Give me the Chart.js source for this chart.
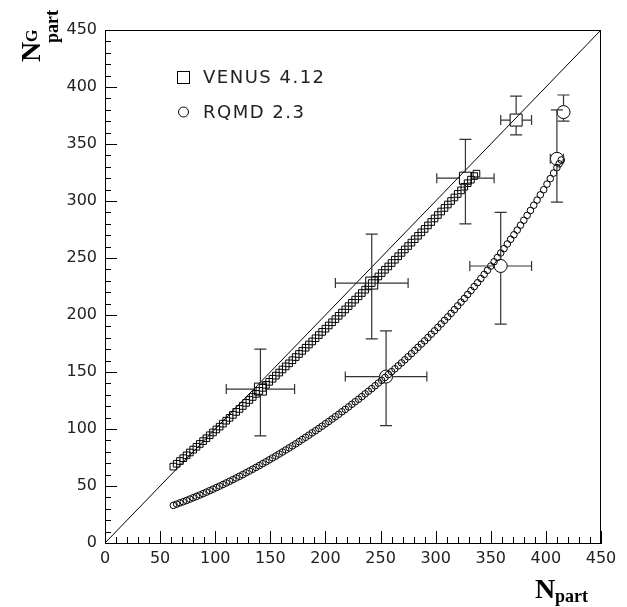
<!DOCTYPE html>
<html>
<head>
<meta charset="utf-8">
<script src="https://cdn.jsdelivr.net/npm/chart.js@4/dist/chart.umd.min.js"></script>
<style>
html,body{margin:0;padding:0;background:#fff;}
#wrap{width:627px;height:607px;position:relative;}
</style>
</head>
<body>
<div id="wrap"><canvas id="c" width="627" height="607"></canvas></div>
<script>
// ---- tick labels ----
const xTickLabels = [0, 50, 100, 150, 200, 250, 300, 350, 400, 450];
const yTickLabels = [0, 50, 100, 150, 200, 250, 300, 350, 400, 450];

// ---- diagonal reference line N^G = N ----
const diagX = [0, 450];
const diagY = [0, 450];

// ---- VENUS 4.12 (small squares) ----
const venusX = [62,65,68,71,74,77,80,83,86,89,92,95,98,101,104,107,110,113,116,119,122,125,128,131,134,137,140,143,146,149,152,155,158,161,164,167,170,173,176,179,182,185,188,191,194,197,200,203,206,209,212,215,218,221,224,227,230,233,236,239,242,245,248,251,254,257,260,263,266,269,272,275,278,281,284,287,290,293,296,299,302,305,308,311,314,317,320,323,326,329,332,335,337];
const venusY = [67.0,69.5,71.9,74.4,76.9,79.4,81.9,84.4,86.9,89.4,91.9,94.5,97.0,99.6,102.1,104.7,107.3,109.8,112.4,115.0,117.6,120.2,122.9,125.5,128.1,130.8,133.4,136.1,138.7,141.4,144.1,146.8,149.5,152.2,154.9,157.6,160.3,163.1,165.8,168.5,171.3,174.1,176.8,179.6,182.4,185.2,188.0,190.8,193.6,196.4,199.3,202.1,204.9,207.8,210.7,213.5,216.4,219.3,222.2,225.1,228.0,230.9,233.8,236.8,239.7,242.6,245.6,248.5,251.5,254.5,257.5,260.5,263.5,266.5,269.5,272.5,275.5,278.6,281.6,284.7,287.7,290.8,293.9,296.9,300.0,303.1,306.2,309.3,312.5,315.6,318.7,321.9,324.0];

// ---- RQMD 2.3 (small circles) ----
const rqmdX = [62,65,68,71,74,77,80,83,86,89,92,95,98,101,104,107,110,113,116,119,122,125,128,131,134,137,140,143,146,149,152,155,158,161,164,167,170,173,176,179,182,185,188,191,194,197,200,203,206,209,212,215,218,221,224,227,230,233,236,239,242,245,248,251,254,257,260,263,266,269,272,275,278,281,284,287,290,293,296,299,302,305,308,311,314,317,320,323,326,329,332,335,338,341,344,347,350,353,356,359,362,365,368,371,374,377,380,383,386,389,392,395,398,401,404,407,410,412,414];
const rqmdY = [33.0,34.1,35.2,36.2,37.3,38.5,39.7,40.9,42.1,43.3,44.6,45.9,47.2,48.6,49.9,51.3,52.7,54.1,55.6,57.0,58.5,60.0,61.6,63.1,64.7,66.3,67.9,69.6,71.2,72.9,74.6,76.3,78.0,79.8,81.6,83.4,85.2,87.0,88.9,90.8,92.7,94.6,96.6,98.5,100.5,102.5,104.6,106.6,108.7,110.8,112.9,115.1,117.2,119.4,121.7,123.9,126.1,128.4,130.8,133.1,135.4,137.9,140.3,142.7,145.2,147.7,150.3,152.8,155.4,158.0,160.7,163.4,166.1,168.9,171.7,174.5,177.3,180.2,183.2,186.1,189.1,192.2,195.3,198.4,201.5,204.7,208.0,211.3,214.5,218.0,221.4,224.9,228.3,232.0,235.6,239.2,242.9,246.7,250.5,254.4,258.2,262.3,266.4,270.4,274.5,278.8,283.1,287.4,291.7,296.3,300.8,305.4,309.9,314.8,319.6,324.5,329.3,332.6,336.0];

// ---- VENUS big points with error bars ----
const venusBigX    = [141, 242, 327, 373];
const venusBigY    = [135, 228, 320, 371];
const venusBigXErr = [31, 33, 26, 14];
const venusBigYLo  = [94, 179, 280, 358];
const venusBigYHi  = [170, 271, 354, 392];

// ---- RQMD big points with error bars ----
const rqmdBigX    = [255, 359, 410, 416];
const rqmdBigY    = [146, 243, 337, 378];
const rqmdBigXErr = [37, 28, 6, 0];
const rqmdBigYLo  = [103, 192, 299, 370];
const rqmdBigYHi  = [186, 290, 380, 393];

const seriesLabels = ['VENUS 4.12', 'RQMD 2.3'];

const pts = (xs, ys) => xs.map((x, i) => ({x: x, y: ys[i]}));

// inward tick marks (ROOT style) + frame
const frameTicks = {
  id: 'frameTicks',
  beforeDatasetsDraw(chart) {
    const {ctx, chartArea: a, scales: {x, y}} = chart;
    ctx.save();
    ctx.strokeStyle = '#000';
    ctx.lineWidth = 1;
    ctx.beginPath();
    for (let v = x.min; v <= x.max; v += 10) {
      const px = Math.round(x.getPixelForValue(v)) + 0.5;
      const len = (v % 50 === 0) ? 12 : 6;
      ctx.moveTo(px, a.bottom);
      ctx.lineTo(px, a.bottom - len);
    }
    for (let v = y.min; v <= y.max; v += 10) {
      const py = Math.round(y.getPixelForValue(v)) + 0.5;
      const len = (v % 50 === 0) ? 12 : 6;
      ctx.moveTo(a.left, py);
      ctx.lineTo(a.left + len, py);
    }
    ctx.stroke();
    ctx.lineWidth = 1;
    ctx.strokeRect(a.left + 0.5, a.top + 0.5, a.right - a.left - 1, a.bottom - a.top);
    ctx.restore();
  }
};

// error bars with gap for the marker
const errorBars = {
  id: 'errorBars',
  afterDatasetsDraw(chart) {
    const {ctx, scales: {x, y}} = chart;
    ctx.save();
    ctx.strokeStyle = '#333';
    ctx.lineWidth = 1.2;
    chart.data.datasets.forEach(ds => {
      if (!ds.err) return;
      const e = ds.err;
      const gap = e.gap, cap = 6;
      ds.data.forEach((p, i) => {
        const cx = x.getPixelForValue(p.x), cy = y.getPixelForValue(p.y);
        ctx.beginPath();
        if (e.xErr[i] > 0) {
          const xl = x.getPixelForValue(p.x - e.xErr[i]);
          const xr = x.getPixelForValue(p.x + e.xErr[i]);
          ctx.moveTo(xl, cy); ctx.lineTo(cx - gap, cy);
          ctx.moveTo(cx + gap, cy); ctx.lineTo(xr, cy);
          ctx.moveTo(xl, cy - cap + 1); ctx.lineTo(xl, cy + cap - 1);
          ctx.moveTo(xr, cy - cap + 1); ctx.lineTo(xr, cy + cap - 1);
        }
        const yt = y.getPixelForValue(e.yHi[i]);
        const yb = y.getPixelForValue(e.yLo[i]);
        ctx.moveTo(cx, yt); ctx.lineTo(cx, cy - gap);
        ctx.moveTo(cx, cy + gap); ctx.lineTo(cx, yb);
        ctx.moveTo(cx - cap, yt); ctx.lineTo(cx + cap, yt);
        ctx.moveTo(cx - cap, yb); ctx.lineTo(cx + cap, yb);
        ctx.stroke();
      });
    });
    ctx.restore();
  }
};

// legend inside plot
const innerLegend = {
  id: 'innerLegend',
  afterDraw(chart) {
    const ctx = chart.ctx;
    ctx.save();
    ctx.strokeStyle = '#000';
    ctx.lineWidth = 1;
    ctx.strokeRect(177.5, 71.5, 12, 12);
    ctx.beginPath();
    ctx.arc(183.5, 112, 5, 0, Math.PI * 2);
    ctx.stroke();
    ctx.fillStyle = '#222';
    ctx.font = '18px "DejaVu Sans"';
    ctx.textBaseline = 'middle';
    ctx.textAlign = 'left';
    if ('letterSpacing' in ctx) ctx.letterSpacing = '1.5px';
    ctx.fillText(seriesLabels[0], 203, 78);
    ctx.fillText(seriesLabels[1], 203, 113);
    if ('letterSpacing' in ctx) ctx.letterSpacing = '0px';
    ctx.restore();
  }
};

// axis titles N_part^G and N_part
const axisTitles = {
  id: 'axisTitles',
  afterDraw(chart) {
    const ctx = chart.ctx;
    ctx.save();
    ctx.fillStyle = '#000';
    ctx.textBaseline = 'alphabetic';
    ctx.textAlign = 'left';
    // x title
    ctx.font = 'bold 28px "Liberation Serif"';
    ctx.fillText('N', 535, 598);
    ctx.font = 'bold 18px "Liberation Serif"';
    ctx.fillText('part', 555, 602);
    // y title (rotated)
    ctx.translate(40, 62);
    ctx.rotate(-Math.PI / 2);
    ctx.font = 'bold 28px "Liberation Serif"';
    ctx.fillText('N', 0, 0);
    ctx.font = 'bold 16px "Liberation Serif"';
    ctx.fillText('G', 20, -3);
    ctx.font = 'bold 18px "Liberation Serif"';
    ctx.fillText('part', 19, 17.5);
    ctx.restore();
  }
};

new Chart(document.getElementById('c'), {
  type: 'scatter',
  data: {
    datasets: [
      { label: 'diagonal', data: pts(diagX, diagY), showLine: true, borderColor: '#000', borderWidth: 1, pointRadius: 0, fill: false },
      { label: seriesLabels[0], data: pts(venusX, venusY), pointStyle: 'rect', pointRadius: 4.7, pointBorderWidth: 1, borderColor: '#000', backgroundColor: 'rgba(0,0,0,0)' },
      { label: seriesLabels[1], data: pts(rqmdX, rqmdY), pointStyle: 'circle', pointRadius: 3.3, pointBorderWidth: 1, borderColor: '#000', backgroundColor: 'rgba(0,0,0,0)' },
      { label: seriesLabels[0] + ' avg', data: pts(venusBigX, venusBigY), pointStyle: 'rect', pointRadius: 8.5, pointBorderWidth: 1, borderColor: '#000', backgroundColor: 'rgba(0,0,0,0)',
        err: { xErr: venusBigXErr, yLo: venusBigYLo, yHi: venusBigYHi, gap: 6 } },
      { label: seriesLabels[1] + ' avg', data: pts(rqmdBigX, rqmdBigY), pointStyle: 'circle', pointRadius: 6.5, pointBorderWidth: 1, borderColor: '#000', backgroundColor: 'rgba(0,0,0,0)',
        err: { xErr: rqmdBigXErr, yLo: rqmdBigYLo, yHi: rqmdBigYHi, gap: 6.5 } }
    ]
  },
  options: {
    responsive: false,
    animation: false,
    devicePixelRatio: 1,
    layout: { padding: { top: 30, right: 26, left: 0, bottom: 0 } },
    plugins: { legend: { display: false }, tooltip: { enabled: false } },
    scales: {
      x: {
        type: 'linear', min: 0, max: 450,
        afterBuildTicks: s => { s.ticks = xTickLabels.map(v => ({ value: v })); },
        afterFit: s => { s.height = 64; },
        grid: { display: false, drawTicks: false },
        border: { display: true, color: '#000', width: 1 },
        ticks: { padding: 6, color: '#222', maxRotation: 0, autoSkip: false, font: { family: 'DejaVu Sans', size: 16 } }
      },
      y: {
        type: 'linear', min: 0, max: 450,
        afterBuildTicks: s => { s.ticks = yTickLabels.map(v => ({ value: v })); },
        afterFit: s => { s.width = 105; },
        grid: { display: false, drawTicks: false },
        border: { display: true, color: '#000', width: 1 },
        ticks: { padding: 8, color: '#222', autoSkip: false, font: { family: 'DejaVu Sans', size: 16 } }
      }
    }
  },
  plugins: [frameTicks, errorBars, innerLegend, axisTitles]
});
</script>
</body>
</html>
